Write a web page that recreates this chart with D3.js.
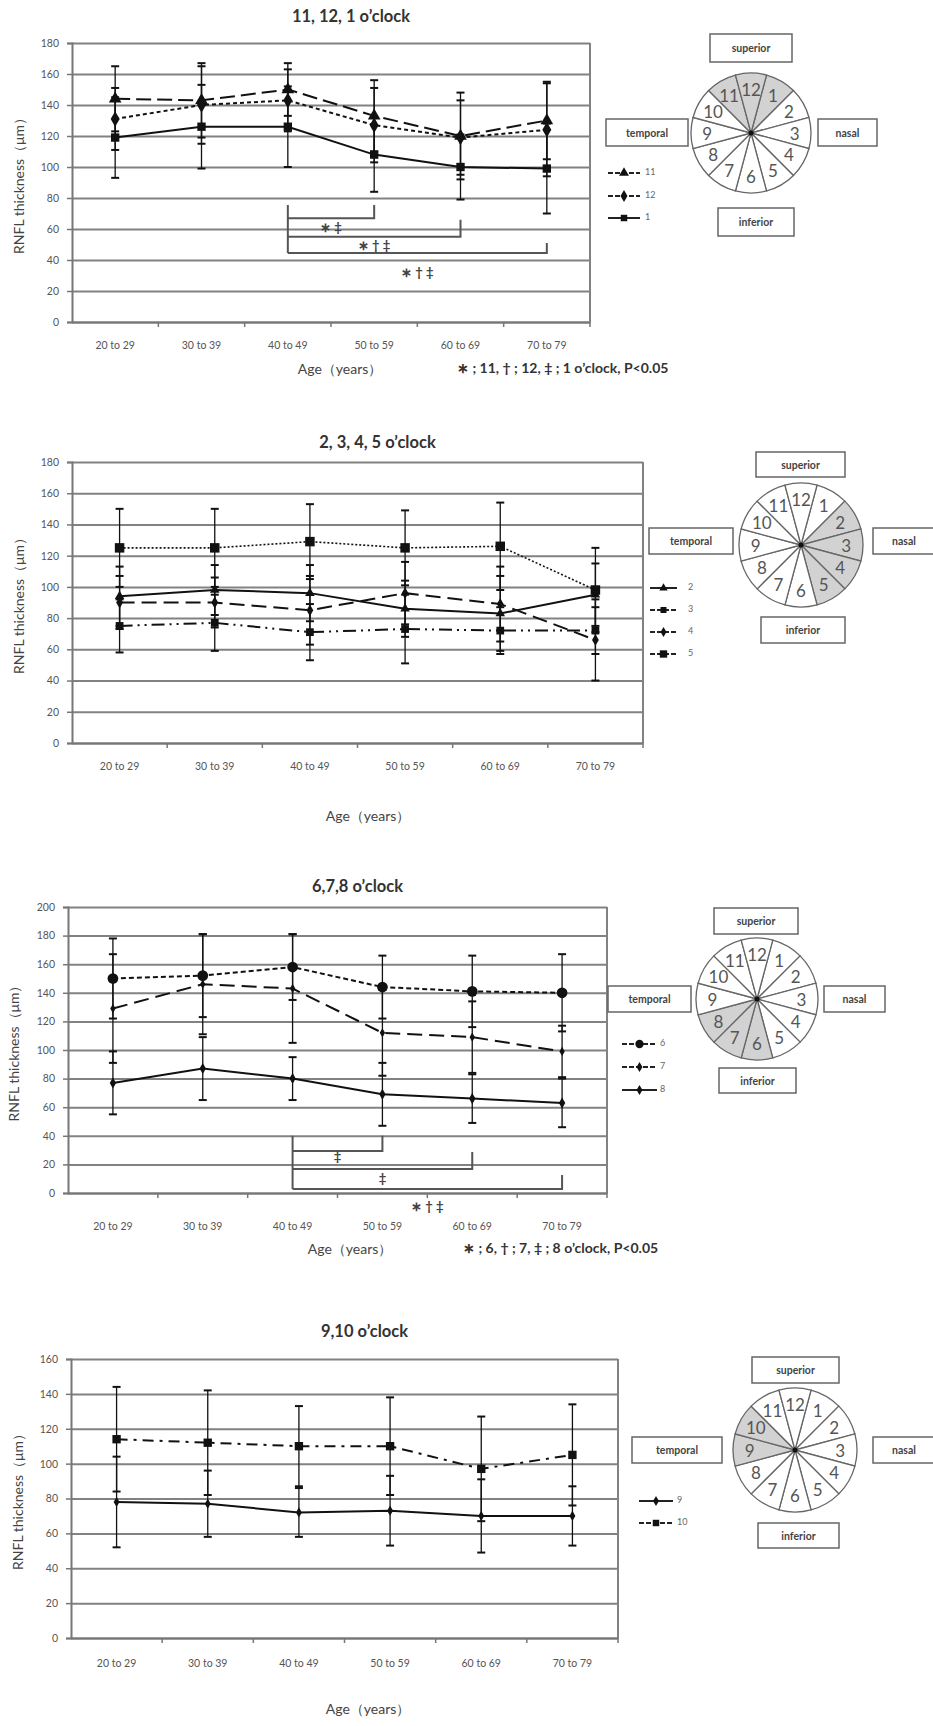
<!DOCTYPE html>
<html>
<head>
<meta charset="utf-8">
<script src="https://cdn.jsdelivr.net/npm/d3@7/dist/d3.min.js"></script>
<style>
  body { margin: 0; background: #fff; }
  svg text { font-family: Lato, "Open Sans", sans-serif; }
</style>
</head>
<body>
<svg id="fig" width="933" height="1726"></svg>
<script>
// age groups on the x axis (shared by all four panels)
var ageGroups = ["20 to 29", "30 to 39", "40 to 49", "50 to 59", "60 to 69", "70 to 79"];

// y tick values
var ticks180 = [0, 20, 40, 60, 80, 100, 120, 140, 160, 180];
var ticks200 = [0, 20, 40, 60, 80, 100, 120, 140, 160, 180, 200];
var ticks160 = [0, 20, 40, 60, 80, 100, 120, 140, 160];

// panel 1 : 11, 12, 1 o'clock (mean, SD)
var h11Mean = [144, 143, 150, 133, 120, 130];
var h11Sd   = [21, 24, 17, 23, 28, 25];
var h12Mean = [131, 140, 143, 127, 119, 124];
var h12Sd   = [20, 25, 20, 24, 24, 30];
var h1Mean  = [119, 126, 126, 108, 100, 99];
var h1Sd    = [26, 27, 26, 24, 21, 29];

// panel 2 : 2, 3, 4, 5 o'clock
var h2Mean = [94, 98, 96, 86, 83, 95];
var h2Sd   = [19, 16, 18, 18, 24, 20];
var h3Mean = [75, 77, 71, 73, 72, 72];
var h3Sd   = [17, 18, 18, 22, 15, 15];
var h4Mean = [90, 90, 85, 96, 89, 66];
var h4Sd   = [17, 16, 22, 20, 24, 26];
var h5Mean = [125, 125, 129, 125, 126, 98];
var h5Sd   = [25, 25, 24, 24, 28, 27];

// panel 3 : 6, 7, 8 o'clock
var h6Mean = [150, 152, 158, 144, 141, 140];
var h6Sd   = [28, 29, 23, 22, 25, 27];
var h7Mean = [129, 146, 143, 112, 109, 99];
var h7Sd   = [38, 35, 38, 30, 25, 18];
var h8Mean = [77, 87, 80, 69, 66, 63];
var h8Sd   = [22, 22, 15, 22, 17, 17];

// panel 4 : 9, 10 o'clock
var h9Mean  = [78, 77, 72, 73, 70, 70];
var h9Sd    = [26, 19, 14, 20, 21, 17];
var h10Mean = [114, 112, 110, 110, 97, 105];
var h10Sd   = [30, 30, 23, 28, 30, 29];

// significance brackets (age group index, values in µm)
var p1Brackets = [
  {from: 2, to: 3, y: 67,   top: 75.5, label: "\u2217 \u2021",          ly: 60.5},
  {from: 2, to: 4, y: 55,   top: 66,   label: "\u2217 \u2020 \u2021",   ly: 48.5},
  {from: 2, to: 5, y: 44.5, top: 51,   label: "\u2217 \u2020 \u2021",   ly: 31.5}
];
var p3Brackets = [
  {from: 2, to: 3, y: 29.4, top: 40,   label: "\u2021",                ly: 24.5},
  {from: 2, to: 4, y: 16.8, top: 28.7, label: "\u2021",                ly: 9},
  {from: 2, to: 5, y: 2.8,  top: 12.6, label: "\u2217 \u2020 \u2021",  ly: -10}
];

var clockHours = d3.range(1, 13);

var svg = d3.select("#fig");

var symbols = {
  triangle: d3.symbolTriangle, diamond: d3.symbolDiamond,
  square: d3.symbolSquare, circle: d3.symbolCircle
};

var panels = [
  {
    title: "11, 12, 1 o\u2019clock", ticks: ticks180, yMax: 180,
    box: {left: 72, right: 590, top: 43, bottom: 322},
    titleY: 22, labelY: 346, ageX: 340, ageY: 374, yTitleX: 20,
    series: [
      {name: "11", mean: h11Mean, sd: h11Sd, dash: "15,6", sym: "triangle", size: 70},
      {name: "12", mean: h12Mean, sd: h12Sd, dash: "4,3",  sym: "diamond",  size: 70},
      {name: "1",  mean: h1Mean,  sd: h1Sd,  dash: null,   sym: "square",   size: 70}
    ],
    brackets: p1Brackets,
    footnote: {text: "\u2217 ; 11, \u2020 ; 12, \u2021 ; 1 o\u2019clock,  P<0.05", x: 457, y: 373},
    legend: {x0: 608, x1: 640, lx: 645, ys: [173, 196, 218]},
    clock: {cx: 751, cy: 133, r: 60, shade: [11, 12, 1],
      boxes: {superior: [710, 34, 82, 28], temporal: [606, 119, 82, 27],
              nasal: [818, 119, 59, 27], inferior: [718, 208, 76, 28]}}
  },
  {
    title: "2, 3, 4, 5 o\u2019clock", ticks: ticks180, yMax: 180,
    box: {left: 72, right: 643, top: 462, bottom: 743},
    titleY: 448, labelY: 767, ageX: 368, ageY: 821, yTitleX: 20,
    series: [
      {name: "2", mean: h2Mean, sd: h2Sd, dash: null,          sym: "triangle", size: 40},
      {name: "3", mean: h3Mean, sd: h3Sd, dash: "13,5,2,5,2,5", sym: "square",  size: 60},
      {name: "4", mean: h4Mean, sd: h4Sd, dash: "15,7",         sym: "diamond", size: 40},
      {name: "5", mean: h5Mean, sd: h5Sd, dash: "2,2",          sym: "square",  size: 90}
    ],
    brackets: [],
    footnote: null,
    legend: {x0: 650, x1: 677, lx: 688, ys: [588, 610, 632, 654]},
    clock: {cx: 801, cy: 545, r: 62, shade: [2, 3, 4, 5],
      boxes: {superior: [756, 452, 89, 25], temporal: [649, 528, 84, 26],
              nasal: [873, 528, 62, 26], inferior: [761, 617, 84, 26]}}
  },
  {
    title: "6,7,8  o\u2019clock", ticks: ticks200, yMax: 200,
    box: {left: 68, right: 607, top: 907, bottom: 1193},
    titleY: 892, labelY: 1227, ageX: 350, ageY: 1254, yTitleX: 15,
    series: [
      {name: "6", mean: h6Mean, sd: h6Sd, dash: "5,3",  sym: "circle",  size: 90},
      {name: "7", mean: h7Mean, sd: h7Sd, dash: "15,7", sym: "diamond", size: 25},
      {name: "8", mean: h8Mean, sd: h8Sd, dash: null,   sym: "diamond", size: 35}
    ],
    brackets: p3Brackets,
    footnote: {text: "\u2217 ; 6, \u2020 ; 7, \u2021 ; 8 o\u2019clock,  P<0.05", x: 463, y: 1253},
    legend: {x0: 622, x1: 657, lx: 660, ys: [1044, 1067, 1090]},
    clock: {cx: 757, cy: 999, r: 61, shade: [6, 7, 8],
      boxes: {superior: [714, 908, 84, 26], temporal: [608, 986, 83, 26],
              nasal: [824, 986, 61, 26], inferior: [719, 1068, 77, 25]}}
  },
  {
    title: "9,10  o\u2019clock", ticks: ticks160, yMax: 160,
    box: {left: 71, right: 618, top: 1359, bottom: 1638},
    titleY: 1337, labelY: 1664, ageX: 368, ageY: 1714, yTitleX: 19,
    series: [
      {name: "9",  mean: h9Mean,  sd: h9Sd,  dash: null,        sym: "diamond", size: 30},
      {name: "10", mean: h10Mean, sd: h10Sd, dash: "11,6,3,6",  sym: "square",  size: 70}
    ],
    brackets: [],
    footnote: null,
    legend: {x0: 639, x1: 673, lx: 677, ys: [1501, 1523]},
    clock: {cx: 795, cy: 1450, r: 62, shade: [9, 10],
      boxes: {superior: [752, 1357, 87, 26], temporal: [632, 1437, 90, 26],
              nasal: [873, 1437, 62, 26], inferior: [758, 1523, 81, 25]}}
  }
];

panels.forEach(drawPanel);

function drawPanel(p) {
  var b = p.box;
  var x = d3.scaleBand().domain(ageGroups).range([b.left, b.right]);
  var y = d3.scaleLinear().domain([0, p.yMax]).range([b.bottom, b.top]);
  var cx = function(i) { return x(ageGroups[i]) + x.bandwidth() / 2; };
  var g = svg.append("g");

  // title
  g.append("text")
    .attr("x", (b.left + b.right) / 2 + 20).attr("y", p.titleY)
    .attr("text-anchor", "middle")
    .attr("font-size", 16.5).attr("font-weight", "bold").attr("fill", "#333")
    .text(p.title);

  // horizontal gridlines
  g.append("g")
    .attr("transform", "translate(" + b.left + ",0)")
    .call(d3.axisLeft(y).tickValues(p.ticks).tickSize(-(b.right - b.left)).tickFormat(""))
    .call(function(s) { s.select(".domain").remove(); })
    .selectAll("line").attr("stroke", "#828282").attr("stroke-width", 2);

  // y axis with labels
  var ya = g.append("g")
    .attr("transform", "translate(" + b.left + ",0)")
    .call(d3.axisLeft(y).tickValues(p.ticks).tickSize(5).tickPadding(8));
  ya.select(".domain").attr("stroke", "#777").attr("stroke-width", 2);
  ya.selectAll("line").attr("stroke", "#777").attr("stroke-width", 1.5);
  ya.selectAll("text").attr("font-size", 10.5).attr("fill", "#555")
    .attr("font-family", "Liberation Sans Narrow, Liberation Sans, sans-serif");

  // right border
  g.append("line")
    .attr("x1", b.right).attr("x2", b.right).attr("y1", b.top).attr("y2", b.bottom)
    .attr("stroke", "#828282").attr("stroke-width", 2);

  // x axis: ticks at category boundaries, labels under band centres
  var xa = g.append("g")
    .attr("transform", "translate(0," + b.bottom + ")")
    .call(d3.axisBottom(x).tickSize(0).tickFormat(""));
  xa.select(".domain").attr("stroke", "#777").attr("stroke-width", 2);
  var bounds = ageGroups.slice(1).map(function(a) { return x(a); }).concat([b.right]);
  g.selectAll(".xtick").data(bounds).enter().append("line")
    .attr("x1", function(d) { return d; }).attr("x2", function(d) { return d; })
    .attr("y1", b.bottom).attr("y2", b.bottom + 5)
    .attr("stroke", "#777").attr("stroke-width", 1.5);
  g.selectAll(".xlab").data(ageGroups).enter().append("text")
    .attr("x", function(d) { return x(d) + x.bandwidth() / 2; })
    .attr("y", p.labelY)
    .attr("text-anchor", "middle").attr("dominant-baseline", "middle")
    .attr("font-size", 10.5).attr("fill", "#555")
    .attr("font-family", "Liberation Sans Narrow, Liberation Sans, sans-serif")
    .text(function(d) { return d; });

  // axis titles
  g.append("text")
    .attr("x", p.ageX).attr("y", p.ageY)
    .attr("text-anchor", "middle").attr("font-size", 14).attr("fill", "#444")
    .text("Age\uFF08years\uFF09");
  g.append("text")
    .attr("transform", "translate(" + p.yTitleX + "," + (b.top + b.bottom) / 2 + ") rotate(-90)")
    .attr("text-anchor", "middle").attr("dominant-baseline", "middle")
    .attr("font-size", 14).attr("fill", "#444")
    .text("RNFL  thickness\uFF08\u03BCm\uFF09");

  // error bars
  p.series.forEach(function(s) {
    var eg = g.append("g").attr("stroke", "#111").attr("stroke-width", 1.3);
    s.mean.forEach(function(m, i) {
      var lo = y(m - s.sd[i]), hi = y(m + s.sd[i]), xc = cx(i);
      eg.append("line").attr("x1", xc).attr("x2", xc).attr("y1", lo).attr("y2", hi);
      eg.append("line").attr("x1", xc - 4).attr("x2", xc + 4).attr("y1", lo).attr("y2", lo).attr("stroke-width", 2);
      eg.append("line").attr("x1", xc - 4).attr("x2", xc + 4).attr("y1", hi).attr("y2", hi).attr("stroke-width", 2);
    });
  });

  // lines and markers
  var line = d3.line().x(function(d, i) { return cx(i); }).y(function(d) { return y(d); });
  p.series.forEach(function(s) {
    g.append("path")
      .attr("d", line(s.mean))
      .attr("fill", "none").attr("stroke", "#111")
      .attr("stroke-width", s.dash === "2,2" ? 1.6 : 2)
      .attr("stroke-dasharray", s.dash);
    g.selectAll(null).data(s.mean).enter().append("path")
      .attr("d", d3.symbol().type(symbols[s.sym]).size(s.size))
      .attr("transform", function(d, i) { return "translate(" + cx(i) + "," + y(d) + ")"; })
      .attr("fill", "#111");
  });

  // significance brackets
  if (p.brackets.length) {
    var bg = g.append("g").attr("stroke", "#555").attr("stroke-width", 2).attr("fill", "none");
    var x0 = cx(p.brackets[0].from);
    bg.append("line").attr("x1", x0).attr("x2", x0)
      .attr("y1", y(d3.max(p.brackets, function(d) { return d.top; })))
      .attr("y2", y(d3.min(p.brackets, function(d) { return d.y; })));
    p.brackets.forEach(function(br) {
      var x1 = cx(br.to);
      bg.append("path").attr("d", "M" + x0 + "," + y(br.y) + "H" + x1 + "V" + y(br.top));
      g.append("text")
        .attr("x", (x0 + x1) / 2).attr("y", y(br.ly))
        .attr("text-anchor", "middle").attr("dominant-baseline", "middle")
        .attr("font-size", 13).attr("font-weight", "bold").attr("fill", "#444")
        .text(br.label);
    });
  }

  if (p.footnote) {
    g.append("text")
      .attr("x", p.footnote.x).attr("y", p.footnote.y)
      .attr("font-size", 14).attr("font-weight", "bold").attr("fill", "#333")
      .text(p.footnote.text);
  }

  // legend
  var lg = p.legend;
  p.series.forEach(function(s, i) {
    var ly = lg.ys[i];
    g.append("line").attr("x1", lg.x0).attr("x2", lg.x1).attr("y1", ly).attr("y2", ly)
      .attr("stroke", "#222").attr("stroke-width", 2).attr("stroke-dasharray", s.dash ? "5,2" : null);
    g.append("path")
      .attr("d", d3.symbol().type(symbols[s.sym]).size(Math.max(s.size * 0.6, 30)))
      .attr("transform", "translate(" + (lg.x0 + lg.x1) / 2 + "," + ly + ")")
      .attr("fill", "#111");
    g.append("text").attr("x", lg.lx).attr("y", ly)
      .attr("dominant-baseline", "middle").attr("font-size", 9).attr("fill", "#666")
      .text(s.name);
  });

  drawClock(g, p.clock);
}

function drawClock(g, c) {
  var arc = d3.arc().innerRadius(0).outerRadius(c.r);
  var cg = g.append("g").attr("transform", "translate(" + c.cx + "," + c.cy + ")");
  cg.selectAll("path").data(clockHours).enter().append("path")
    .attr("d", function(h) {
      return arc({startAngle: (h * 30 - 15) * Math.PI / 180, endAngle: (h * 30 + 15) * Math.PI / 180});
    })
    .attr("fill", function(h) { return c.shade.indexOf(h) >= 0 ? "#d2d2d2" : "#fff"; })
    .attr("stroke", "#666").attr("stroke-width", 1.3);
  cg.selectAll("text").data(clockHours).enter().append("text")
    .attr("x", function(h) { return 0.73 * c.r * Math.sin(h * Math.PI / 6); })
    .attr("y", function(h) { return -0.73 * c.r * Math.cos(h * Math.PI / 6); })
    .attr("text-anchor", "middle").attr("dominant-baseline", "central")
    .attr("font-size", 17).attr("fill", "#555")
    .text(function(h) { return h; });
  cg.append("circle").attr("r", 2.5).attr("fill", "#111");

  Object.keys(c.boxes).forEach(function(k) {
    var r = c.boxes[k];
    g.append("rect").attr("x", r[0]).attr("y", r[1]).attr("width", r[2]).attr("height", r[3])
      .attr("fill", "#fff").attr("stroke", "#666").attr("stroke-width", 1.5);
    g.append("text").attr("x", r[0] + r[2] / 2).attr("y", r[1] + r[3] / 2)
      .attr("text-anchor", "middle").attr("dominant-baseline", "central")
      .attr("font-size", 10.5).attr("font-weight", "bold").attr("fill", "#444")
      .text(k);
  });
}
</script>
</body>
</html>
